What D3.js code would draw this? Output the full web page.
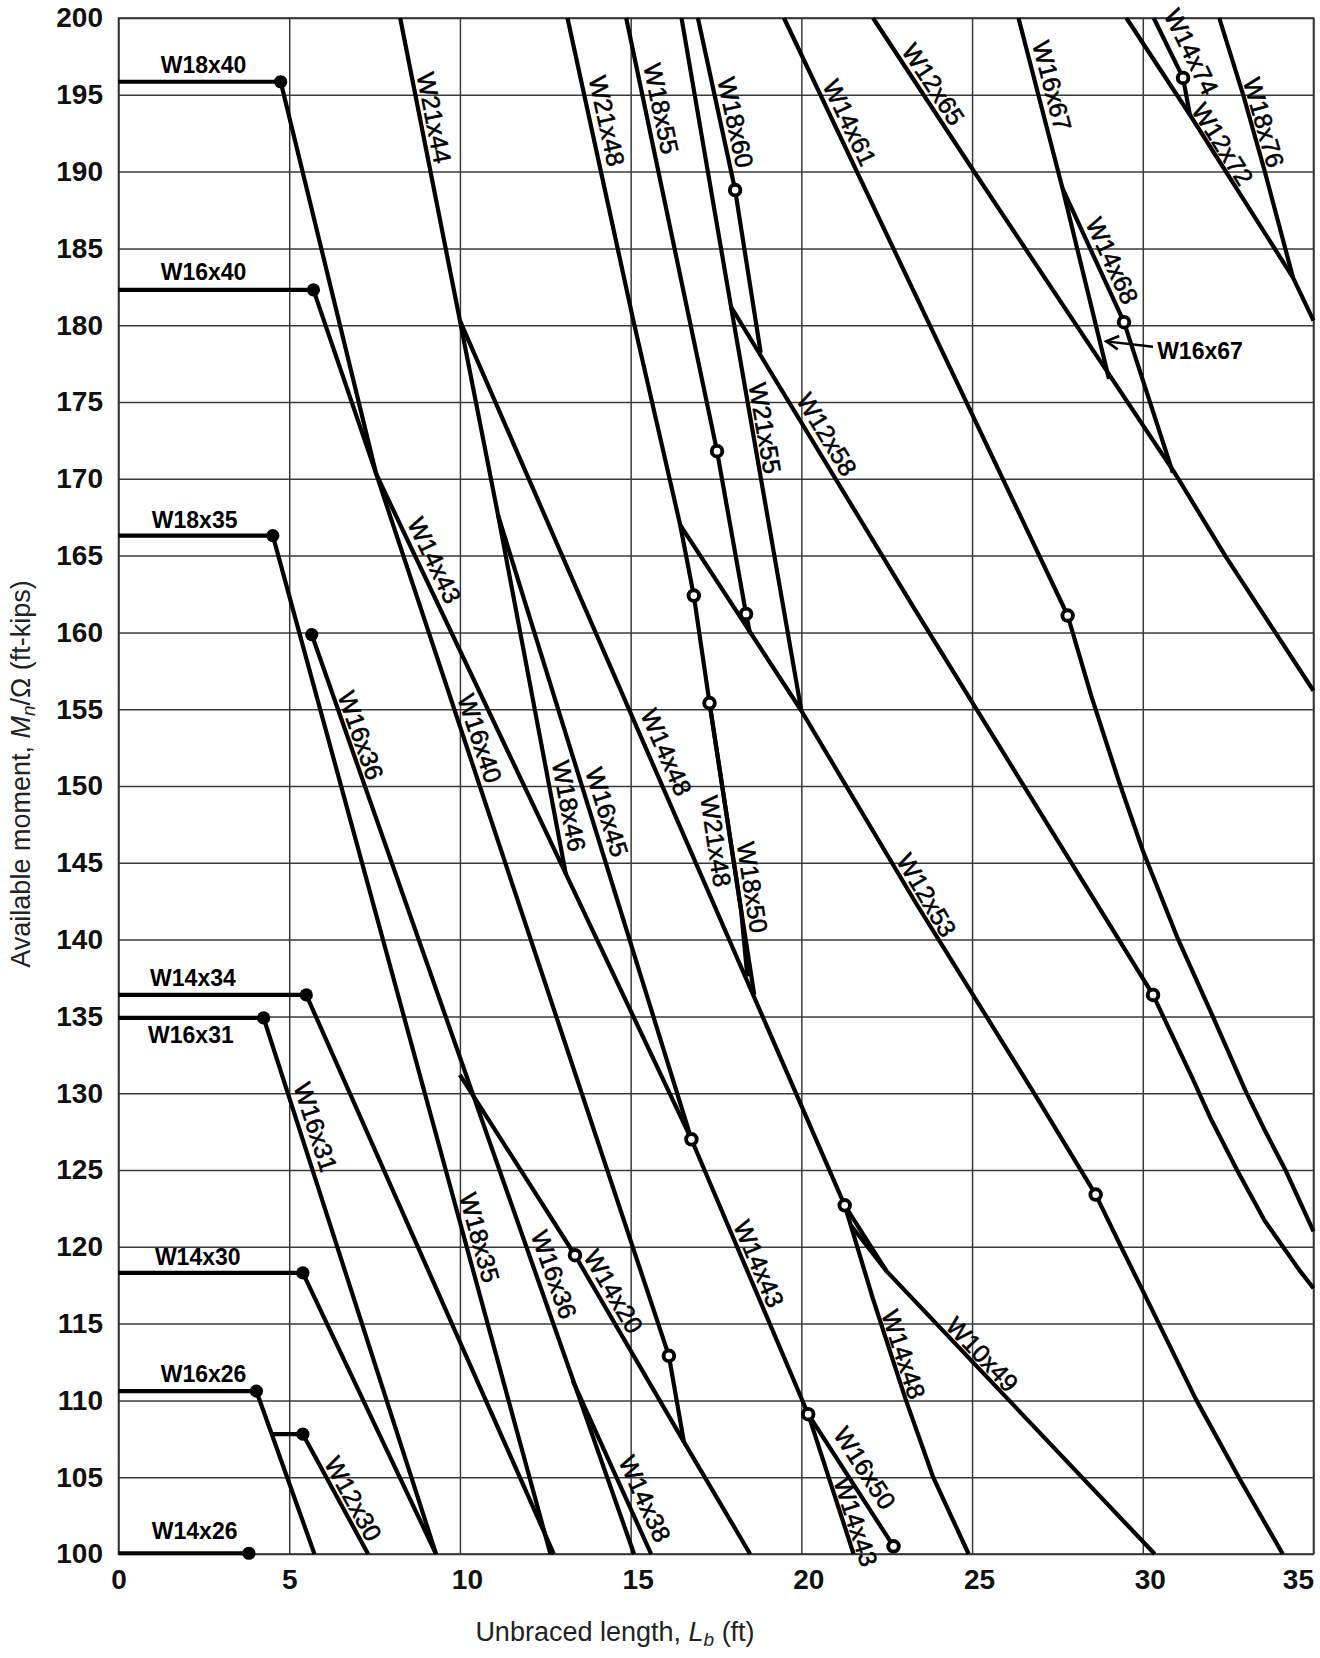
<!DOCTYPE html>
<html>
<head>
<meta charset="utf-8">
<script src="https://cdn.jsdelivr.net/npm/d3@7"></script>
<style>
  body { margin: 0; background: #fff; }
  svg { display: block; font-family: "Liberation Sans", Arial, sans-serif; }
  .grid line { stroke: #3a3a3a; stroke-width: 1.5; }
  .grid text { font-size: 28px; font-weight: bold; fill: #111; }
  .beam { fill: none; stroke: #000; stroke-width: 4.2; stroke-linejoin: round; }
  .lbl { font-size: 25px; fill: #000; stroke: #000; stroke-width: 0.55; }
  .plat { font-size: 23px; font-weight: bold; fill: #000; }
  .title { font-size: 27px; fill: #222; }
</style>
</head>
<body>
<script>
const width = 1320, height = 1658;

// ---- tick values ----
const xTicks = [0, 5, 10, 15, 20, 25, 30, 35];
const yTicks = [100, 105, 110, 115, 120, 125, 130, 135, 140, 145, 150,
                155, 160, 165, 170, 175, 180, 185, 190, 195, 200];

// ---- curves: [unbraced length ft, available moment ft-kips] ----
const w18x40 = [[0, 195.85], [4.75, 195.85], [7.55, 170.3]];
const w16x40 = [[0, 182.3], [5.71, 182.3], [7.55, 170.3], [16.12, 112.9], [16.56, 107.3]];
const w18x35 = [[0, 166.3], [4.52, 166.3], [12.65, 100]];
const w16x36 = [[5.66, 159.86], [15.1, 100]];
const w14x34 = [[0, 136.4], [5.5, 136.4], [12.75, 100]];
const w16x31 = [[0, 134.9], [4.25, 134.9], [9.3, 100]];
const w14x30 = [[0, 118.3], [5.4, 118.3], [9.3, 100]];
const w16x26 = [[0, 110.6], [4.04, 110.6], [5.74, 100]];
const w12x30 = [[4.5, 107.8], [5.4, 107.8], [7.31, 100]];
const w14x26 = [[0, 100.05], [3.82, 100.05]];
const w21x44 = [[8.25, 200], [10.0, 180.3], [11.12, 167.6], [13.1, 144.3]];
const w14x43 = [[7.55, 170.3], [13.1, 144.3], [16.78, 127.0], [20.2, 109.1], [21.53, 100]];
const w16x45 = [[11.12, 167.6], [16.78, 127.0]];
const w14x48 = [[10.0, 180.3], [21.27, 122.7], [22.1, 116.6], [23.05, 110.1], [23.86, 105.0], [24.9, 100]];
const w14x20 = [[10.0, 131.2], [13.37, 119.45], [16.56, 107.3], [18.5, 100]];
const w14x38 = [[13.3, 111.3], [15.6, 100]];
const w16x50 = [[20.2, 109.1], [22.7, 100.5]];
const w10x49 = [[21.27, 122.7], [22.5, 118.4], [30.35, 100]];
const w10x49b = [[21.45, 121.4], [22.5, 118.4]];
const w21x48 = [[13.15, 200], [15.08, 180.3], [16.45, 167.0], [16.85, 162.4], [17.31, 155.4], [18.23, 142.0], [18.42, 137.6]];
const w18x50 = [[17.31, 155.4], [18.23, 142.0], [18.62, 136.4]];
const w12x53 = [[16.45, 167.0], [20.0, 154.9], [23.35, 142.4], [26.9, 129.7], [28.62, 123.4], [29.32, 120.2],
                [30.03, 117.0], [31.55, 110.1], [32.86, 104.8], [34.1, 100]];
const w18x55 = [[14.87, 200], [17.53, 171.8], [18.38, 161.2], [18.5, 159.9]];
const w18x60 = [[16.97, 200], [18.06, 188.8], [18.81, 178.2]];
const w21x55 = [[16.49, 200], [17.94, 181.2], [20.0, 154.9]];
const w12x58 = [[17.94, 181.2], [23.35, 161.4], [30.3, 136.4], [31.45, 131.0], [32.0, 128.3], [32.76, 125.0],
                [33.57, 121.7], [34.58, 118.5], [35, 117.3]];
const w14x61 = [[19.49, 200], [27.8, 161.1], [28.5, 155.8], [29.3, 150.3], [30.0, 145.8], [31.0, 140.2],
                [32.05, 135.0], [33.0, 130.2], [33.57, 127.6], [34.2, 124.9], [35, 121.0]];
const w12x65 = [[22.1, 200], [25.0, 190.2], [29.1, 176.5], [30.93, 170.4], [32.44, 164.9], [35, 156.2]];
const w16x67 = [[26.36, 200], [27.65, 188.9], [29.01, 176.5]];
const w14x68 = [[27.65, 188.9], [29.45, 180.2], [30.88, 170.4]];
const w12x72 = [[29.52, 200], [31.38, 193.7], [34.4, 183.1], [35, 180.3]];
const w14x74 = [[30.32, 200], [31.18, 196.1], [31.38, 193.7]];
const w18x76 = [[32.24, 200], [32.94, 195.0], [33.55, 190.2], [34.4, 183.1]];

const allCurves = [w18x40, w16x40, w18x35, w16x36, w14x34, w16x31, w14x30, w16x26, w12x30, w14x26,
  w21x44, w14x43, w16x45, w14x48, w14x20, w14x38, w16x50, w10x49, w10x49b, w21x48, w18x50, w12x53,
  w18x55, w18x60, w21x55, w12x58, w14x61, w12x65, w16x67, w14x68, w12x72, w14x74, w18x76];

// ---- markers ----
const solidPts = [[4.75, 195.85], [5.71, 182.3], [4.52, 166.3], [5.66, 159.86], [5.5, 136.4],
                  [4.25, 134.9], [5.4, 118.3], [4.04, 110.6], [5.4, 107.8], [3.82, 100.05]];
const openPts = [[18.06, 188.8], [17.53, 171.8], [18.38, 161.2], [16.85, 162.4], [17.31, 155.4],
                 [29.45, 180.2], [31.18, 196.1], [27.8, 161.1], [30.3, 136.4], [28.62, 123.4],
                 [16.78, 127.0], [13.37, 119.45], [16.12, 112.9], [20.2, 109.1], [21.27, 122.7], [22.7, 100.5]];

// ---- labels ----
const plateauLabels = [
  ["W18x40", 2.49, 196.45], ["W16x40", 2.49, 182.92], ["W18x35", 2.23, 166.8],
  ["W14x34", 2.18, 137.0], ["W16x31", 2.12, 133.25], ["W14x30", 2.32, 118.8],
  ["W16x26", 2.49, 111.22], ["W14x26", 2.23, 101.0]
];
const lineLabels = [
  ["W21x44", 9.25, 193.5, w21x44], ["W21x48", 14.31, 193.3, w21x48], ["W18x55", 15.9, 194.1, w18x55],
  ["W18x60", 18.08, 193.2, w18x60], ["W14x61", 21.42, 193.2, w14x61], ["W12x65", 23.87, 195.7, w12x65],
  ["W16x67", 27.35, 195.6, w16x67], ["W14x74", 31.43, 197.8, w14x74], ["W12x72", 32.34, 191.8, w12x72],
  ["W18x76", 33.55, 193.2, w18x76], ["W14x68", 29.11, 184.2, w14x68], ["W21x55", 18.94, 173.3, w21x55],
  ["W12x58", 20.75, 172.9, w12x58], ["W14x43", 9.26, 164.7, w14x43], ["W16x40", 10.59, 153.1, w16x40],
  ["W16x36", 7.1, 153.3, w16x36], ["W18x46", 13.2, 148.7, w21x44], ["W16x45", 14.31, 148.3, w16x45],
  ["W14x48", 16.05, 152.2, w14x48], ["W21x48", 17.5, 146.4, w21x48], ["W18x50", 18.57, 143.4, w18x50],
  ["W12x53", 23.67, 142.9, w12x53], ["W16x31", 5.78, 127.8, w16x31], ["W12x30", 6.88, 103.6, w12x30],
  ["W18x35", 10.58, 120.6, w18x35], ["W16x36", 12.76, 118.2, w16x36], ["W14x20", 14.5, 117.1, w14x20],
  ["W14x43", 18.76, 118.9, w14x43], ["W14x38", 15.42, 103.6, w14x38], ["W16x50", 21.86, 105.6, w16x50],
  ["W14x43", 21.6, 102.1, w14x43], ["W14x48", 23.0, 113.0, w14x48], ["W10x49", 25.3, 113.0, w10x49]
];
const arrowText = ["W16x67", 30.42, 177.8];
const arrowTail = [30.3, 178.6];
const arrowTip = [28.93, 178.95];

// ---- chart ----
const svg = d3.select("body").append("svg")
  .attr("width", width)
  .attr("height", height);

const x = d3.scaleLinear().domain([0, 35]).range([118.5, 1313.5]);
const y = d3.scaleLinear().domain([100, 200]).range([1554, 18]);

svg.append("g")
  .attr("class", "grid")
  .attr("transform", `translate(${x(0)},0)`)
  .call(d3.axisLeft(y).tickValues(yTicks).tickSize(-(x(35) - x(0))).tickSizeOuter(0)
    .tickPadding(15.5).tickFormat(d3.format("d")))
  .call(g => g.select(".domain").remove());

let xg = svg.append("g")
  .attr("class", "grid")
  .attr("transform", `translate(0,${y(100)})`)
  .call(d3.axisBottom(x).tickValues(xTicks).tickSize(-(y(100) - y(200))).tickSizeOuter(0)
    .tickPadding(15).tickFormat(d3.format("d")))
  .call(g => g.select(".domain").remove());
xg.selectAll(".tick text")
  .attr("dx", d => (d >= 10 && d < 35) ? 7 : 0)
  .attr("text-anchor", d => d === 35 ? "end" : "middle");

svg.append("rect")
  .attr("x", x(0)).attr("y", y(200))
  .attr("width", x(35) - x(0)).attr("height", y(100) - y(200))
  .attr("fill", "none").attr("stroke", "#333").attr("stroke-width", 1.6);

const line = d3.line().x(d => x(d[0])).y(d => y(d[1]));

svg.append("g").selectAll("path")
  .data(allCurves)
  .enter()
  .append("path")
  .attr("class", "beam")
  .attr("d", line);

// rotation of a label from the curve segment spanning its moment value
function labelAngle(curve, m) {
  let seg = null, best = Infinity;
  for (let i = 0; i < curve.length - 1; i++) {
    const a = curve[i], b = curve[i + 1];
    if (a[1] === b[1]) continue;
    if (m <= a[1] && m >= b[1]) { seg = [a, b]; break; }
    const dist = Math.abs((a[1] + b[1]) / 2 - m);
    if (dist < best) { best = dist; seg = seg || [a, b]; }
  }
  const dx = x(seg[1][0]) - x(seg[0][0]);
  const dy = y(seg[1][1]) - y(seg[0][1]);
  return Math.atan2(dy, dx) * 180 / Math.PI;
}

svg.append("g").selectAll("text")
  .data(lineLabels)
  .enter()
  .append("text")
  .attr("class", "lbl")
  .attr("text-anchor", "middle")
  .attr("dominant-baseline", "central")
  .attr("transform", d => `translate(${x(d[1])},${y(d[2])}) rotate(${labelAngle(d[3], d[2])})`)
  .text(d => d[0]);

svg.append("g").selectAll("text")
  .data(plateauLabels)
  .enter()
  .append("text")
  .attr("class", "plat")
  .attr("text-anchor", "middle")
  .attr("x", d => x(d[1]))
  .attr("y", d => y(d[2]))
  .text(d => d[0]);

// arrow note
svg.append("text")
  .attr("class", "plat")
  .attr("x", x(arrowText[1]))
  .attr("y", y(arrowText[2]))
  .text(arrowText[0]);

const tx = x(arrowTip[0]), ty = y(arrowTip[1]);
const ang = Math.atan2(y(arrowTail[1]) - ty, x(arrowTail[0]) - tx);
svg.append("line")
  .attr("x1", x(arrowTail[0])).attr("y1", y(arrowTail[1]))
  .attr("x2", tx).attr("y2", ty)
  .attr("stroke", "#000").attr("stroke-width", 2.4);
svg.append("path")
  .attr("d", `M${tx + 14 * Math.cos(ang - 0.5)},${ty + 14 * Math.sin(ang - 0.5)} L${tx},${ty} L${tx + 14 * Math.cos(ang + 0.5)},${ty + 14 * Math.sin(ang + 0.5)}`)
  .attr("fill", "none").attr("stroke", "#000").attr("stroke-width", 2.6);

svg.append("g").selectAll("circle")
  .data(solidPts)
  .enter()
  .append("circle")
  .attr("cx", d => x(d[0]))
  .attr("cy", d => y(d[1]))
  .attr("r", 6.6)
  .attr("fill", "#000");

svg.append("g").selectAll("circle")
  .data(openPts)
  .enter()
  .append("circle")
  .attr("cx", d => x(d[0]))
  .attr("cy", d => y(d[1]))
  .attr("r", 5.3)
  .attr("fill", "#fff")
  .attr("stroke", "#000")
  .attr("stroke-width", 3.9);

// axis titles
let xt = svg.append("text")
  .attr("class", "title")
  .attr("text-anchor", "middle")
  .attr("x", 615)
  .attr("y", 1641);
xt.append("tspan").text("Unbraced length, ");
xt.append("tspan").attr("font-style", "italic").text("L");
xt.append("tspan").attr("font-style", "italic").attr("font-size", 19).attr("dy", 5).text("b");
xt.append("tspan").attr("dy", -5).text(" (ft)");

let yt = svg.append("text")
  .attr("class", "title")
  .attr("text-anchor", "middle")
  .attr("transform", "translate(30,774) rotate(-90)");
yt.append("tspan").text("Available moment, ");
yt.append("tspan").attr("font-style", "italic").text("M");
yt.append("tspan").attr("font-style", "italic").attr("font-size", 19).attr("dy", 5).text("n");
yt.append("tspan").attr("dy", -5).text("/Ω (ft-kips)");
</script>
</body>
</html>
